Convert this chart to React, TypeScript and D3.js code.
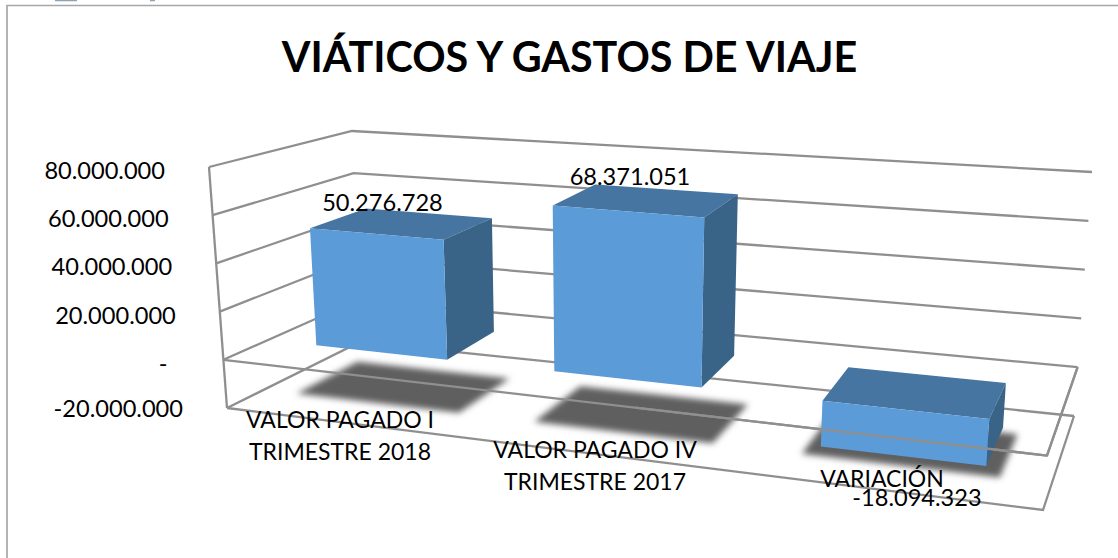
import React from "react";
import * as d3 from "d3";

const title = "VIÁTICOS Y GASTOS DE VIAJE";
const categories = ["VALOR PAGADO I|TRIMESTRE 2018", "VALOR PAGADO IV|TRIMESTRE 2017", "VARIACIÓN"];
const values = [50276728, 68371051, -18094323];
const ticks = [80000000, 60000000, 40000000, 20000000, 0, -20000000];

const W = 1118, H = 558;
const FONT = "Lato, 'Open Sans', sans-serif";
const GRID = "#8f8f8f";

// Corners of the 3D chart box on the page
type P = [number, number];
const floor = { fl: [227, 408] as P, fr: [1043, 510] as P, bl: [360, 342] as P, br: [1074, 416] as P };
const ceil = { fl: [209, 167] as P, fr: [1063, 238] as P, bl: [352, 131] as P, br: [1092, 172] as P };

const tScale = d3.scaleLinear().domain([-20000000, 80000000]).range([0, 1]);
const band = d3.scaleBand<number>().domain([0, 1, 2]).range([0, 1]).paddingInner(0.436).paddingOuter(0.218);
const persp = (s: number) => s / (1 + 0.2 * (1 - s));

const lerp = (a: P, b: P, k: number): P => [a[0] + (b[0] - a[0]) * k, a[1] + (b[1] - a[1]) * k];
const project = (u: number, d: number, v: number): P => {
  const t = tScale(v);
  const bil = (c: typeof floor) => lerp(lerp(c.fl, c.fr, u), lerp(c.bl, c.br, u), d);
  return lerp(bil(floor), bil(ceil), t);
};

const fmt = d3.formatLocale({ decimal: ",", thousands: ".", grouping: [3], currency: ["", ""], minus: "-" }).format(",d");
const tickText = (v: number) => (v === 0 ? "-" : fmt(v));

const line = d3.line<P>();
const poly = (pts: P[]) => line(pts)! + "Z";

const D_FRONT = 0.33, D_BACK = 0.75;

const dataLabelAt: P[] = [[382.5, 211], [630, 185], [917, 506]];
const catLabelAt: P[] = [[340, 428], [595, 458], [882, 487]];
const catLineGap = 32;

export default function App() {
  const wall = (v: number) => {
    const a = project(0, 0, v), b = project(0, 1, v), c = project(1, 1, v);
    return line([a, b, c])!;
  };

  return (
    <svg width={W} height={H} viewBox={`0 0 ${W} ${H}`} style={{ position: "absolute", left: 0, top: 0, background: "#fff" }}>
      <defs>
        <filter id="sh" x="-20%" y="-40%" width="140%" height="180%">
          <feGaussianBlur stdDeviation="3" />
        </filter>
      </defs>

      {/* chart frame */}
      <path d={`M7 ${H}V5.5H${W}`} fill="none" stroke="#a6a6a6" strokeWidth={1.7} />
      {/* cut-off logo remains on the top edge */}
      <path d="M55 0.5H77M150 0.5H155" stroke="#8fa3b5" strokeWidth={1.5} />

      <text x={569.5} y={72} textAnchor="middle" fontFamily={FONT} fontWeight={700} fontSize={41.3} fill="#000">{title}</text>

      {/* walls */}
      <g fill="none" stroke={GRID} strokeWidth={2.3}>
        {ticks.map((v) => <path key={v} d={wall(v)} />)}
        <path d={line([project(0, 0, 80000000), project(0, 0, -20000000)])!} />
        <path d={line([project(1, 1, 0), project(1, 0, 0)])!} />
        <path d={line([project(1, 1, -20000000), project(1, 0, -20000000), project(0, 0, -20000000)])!} />
      </g>

      {/* shadows */}
      <g fill="#5f5f5f" filter="url(#sh)">
        {values.map((_, i) => {
          const u0 = persp(band(i)!) - 0.02, u1 = persp(band(i)! + band.bandwidth()) + 0.02;
          const low = -20000000;
          return <path key={i} d={poly([project(u0, 0.28, low), project(u1, 0.28, low), project(u1, 0.75, low), project(u0, 0.75, low)])} />;
        })}
      </g>
      <path d={line([project(0, 0, 0), project(1, 0, 0)])!} fill="none" stroke={GRID} strokeWidth={2.3} />

      {/* bars */}
      {values.map((v, i) => {
        const u0 = persp(band(i)!), u1 = persp(band(i)! + band.bandwidth());
        const top = Math.max(v, 0), bot = Math.min(v, 0);
        return (
          <g key={i}>
            <path d={poly([project(u0, D_FRONT, top), project(u1, D_FRONT, top), project(u1, D_BACK, top), project(u0, D_BACK, top)])} fill="#4675a2" />
            <path d={poly([project(u1, D_FRONT, top), project(u1, D_BACK, top), project(u1, D_BACK, bot), project(u1, D_FRONT, bot)])} fill="#3a6388" />
            <path d={poly([project(u0, D_FRONT, top), project(u1, D_FRONT, top), project(u1, D_FRONT, bot), project(u0, D_FRONT, bot)])} fill="#5b9bd7" />
          </g>
        );
      })}
      {/* front edge of the zero plane passes over the negative bar */}
      <path d={line([project(0.5, 0, 0), project(1, 0, 0), project(1, 1, 0)])!} fill="none" stroke={GRID} strokeWidth={2.3} />

      {/* value axis */}
      <g fontFamily={FONT} fontSize={23.6} fill="#000">
        {ticks.map((v) => {
          const [x, y] = project(0, 0, v);
          return <text key={v} x={v === 0 ? x - 56 : x - 44} y={v < 0 ? y + 9 : y + 12} textAnchor="end">{tickText(v)}</text>;
        })}
      </g>

      {/* category labels */}
      <g fontFamily={FONT} fontSize={23} fill="#000" textAnchor="middle">
        {categories.map((c, i) =>
          c.split("|").map((part, j) => (
            <text key={part} x={catLabelAt[i][0]} y={catLabelAt[i][1] + j * catLineGap}>{part}</text>
          ))
        )}
      </g>

      {/* data labels */}
      <g fontFamily={FONT} fontSize={23.6} fill="#000" textAnchor="middle">
        {values.map((v, i) => <text key={i} x={dataLabelAt[i][0]} y={dataLabelAt[i][1]}>{fmt(v)}</text>)}
      </g>
    </svg>
  );
}
